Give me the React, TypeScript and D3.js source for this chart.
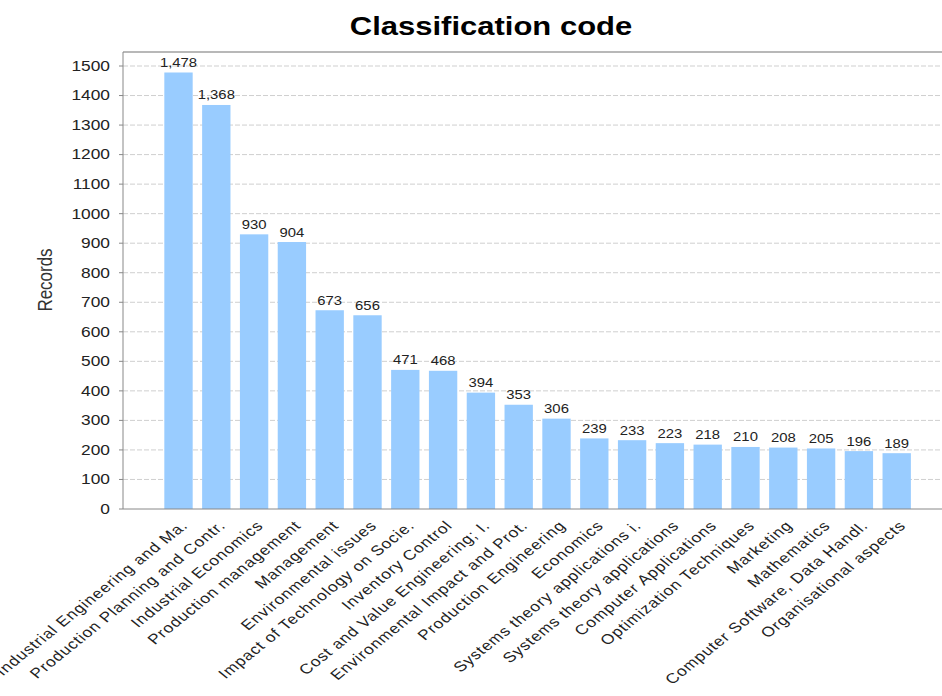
import React from "react";
import * as d3 from "d3";

// Records per classification code
const categories: string[] = [
  "Industrial Engineering and Ma.",
  "Production Planning and Contr.",
  "Industrial Economics",
  "Production management",
  "Management",
  "Environmental issues",
  "Impact of Technology on Socie.",
  "Inventory Control",
  "Cost and Value Engineering; I.",
  "Environmental Impact and Prot.",
  "Production Engineering",
  "Economics",
  "Systems theory applications i.",
  "Systems theory applications",
  "Computer Applications",
  "Optimization Techniques",
  "Marketing",
  "Mathematics",
  "Computer Software, Data Handl.",
  "Organisational aspects",
];

const records: number[] = [
  1478, 1368, 930, 904, 673, 656, 471, 468, 394, 353, 306, 239, 233, 223, 218,
  210, 208, 205, 196, 189,
];

const yTicks: number[] = [
  0, 100, 200, 300, 400, 500, 600, 700, 800, 900, 1000, 1100, 1200, 1300, 1400,
  1500,
];

const W = 942;
const H = 696;
const PLOT_LEFT = 123;
const PLOT_TOP = 52;
const PLOT_RIGHT = 942;
const PLOT_BOTTOM = 509;
const SX = 1.24; // horizontal text stretch
const FONT = "'Liberation Sans', Arial, Helvetica, sans-serif";
const BAR = "#99CCFF";

export default function App() {
  const y = d3.scaleLinear().domain([0, 1500]).range([PLOT_BOTTOM, 66]);
  const x = d3
    .scaleBand<string>()
    .domain(categories)
    .range([159.6, 915.6])
    .paddingInner(0.25)
    .paddingOuter(0.125);
  const fmt = d3.format(",");

  return (
    <svg
      width={W}
      height={H}
      viewBox={`0 0 ${W} ${H}`}
      style={{ position: "fixed", left: 0, top: 0, background: "#fff" }}
      fontFamily={FONT}
    >
      <rect x={0} y={0} width={W} height={H} fill="#fff" />

      {/* title */}
      <text
        transform={`translate(491,35) scale(${SX},1)`}
        textAnchor="middle"
        fontSize={25}
        fontWeight="bold"
        fill="#000"
      >
        Classification code
      </text>

      {/* grid */}
      {yTicks
        .filter((t) => t > 0)
        .map((t) => (
          <line
            key={"g" + t}
            x1={PLOT_LEFT}
            x2={PLOT_RIGHT}
            y1={y(t)}
            y2={y(t)}
            stroke="#cfcfcf"
            strokeWidth={1}
            strokeDasharray="5,2"
          />
        ))}

      {/* plot frame top */}
      <line
        x1={PLOT_LEFT}
        x2={PLOT_RIGHT}
        y1={PLOT_TOP}
        y2={PLOT_TOP}
        stroke="#a0a0a0"
        strokeWidth={1.5}
      />

      {/* bars */}
      {categories.map((c, i) => (
        <rect
          key={"b" + i}
          x={x(c)!}
          y={y(records[i])}
          width={x.bandwidth()}
          height={PLOT_BOTTOM - y(records[i])}
          fill={BAR}
        />
      ))}

      {/* value labels */}
      {categories.map((c, i) => (
        <text
          key={"v" + i}
          transform={`translate(${x(c)! + x.bandwidth() / 2},${
            y(records[i]) - 5.5
          }) scale(${SX},1)`}
          textAnchor="middle"
          fontSize={12}
          fill="#222"
        >
          {fmt(records[i])}
        </text>
      ))}

      {/* y axis */}
      <line
        x1={PLOT_LEFT}
        x2={PLOT_LEFT}
        y1={PLOT_TOP}
        y2={PLOT_BOTTOM}
        stroke="#888"
        strokeWidth={1}
      />
      {yTicks.map((t) => (
        <g key={"t" + t}>
          <line
            x1={PLOT_LEFT - 4}
            x2={PLOT_LEFT}
            y1={y(t)}
            y2={y(t)}
            stroke="#888"
          />
          <text
            transform={`translate(110,${y(t)}) scale(${SX},1)`}
            textAnchor="end"
            dominantBaseline="central"
            fontSize={14}
            fill="#222"
          >
            {t}
          </text>
        </g>
      ))}
      <text
        transform={`translate(45,280) scale(${SX},1) rotate(-90)`}
        textAnchor="middle"
        dominantBaseline="central"
        fontSize={17}
        fill="#333"
      >
        Records
      </text>

      {/* x axis */}
      <line
        x1={PLOT_LEFT}
        x2={PLOT_RIGHT}
        y1={PLOT_BOTTOM}
        y2={PLOT_BOTTOM}
        stroke="#888"
        strokeWidth={1}
      />
      {categories.map((c) => (
        <text
          key={"x" + c}
          transform={`translate(${x(c)! + x.bandwidth() / 2 + 1},519) scale(${SX},1) rotate(-45)`}
          textAnchor="end"
          dy="0.75em"
          fontSize={14}
          letterSpacing={0.75}
          fill="#222"
        >
          {c}
        </text>
      ))}
    </svg>
  );
}
